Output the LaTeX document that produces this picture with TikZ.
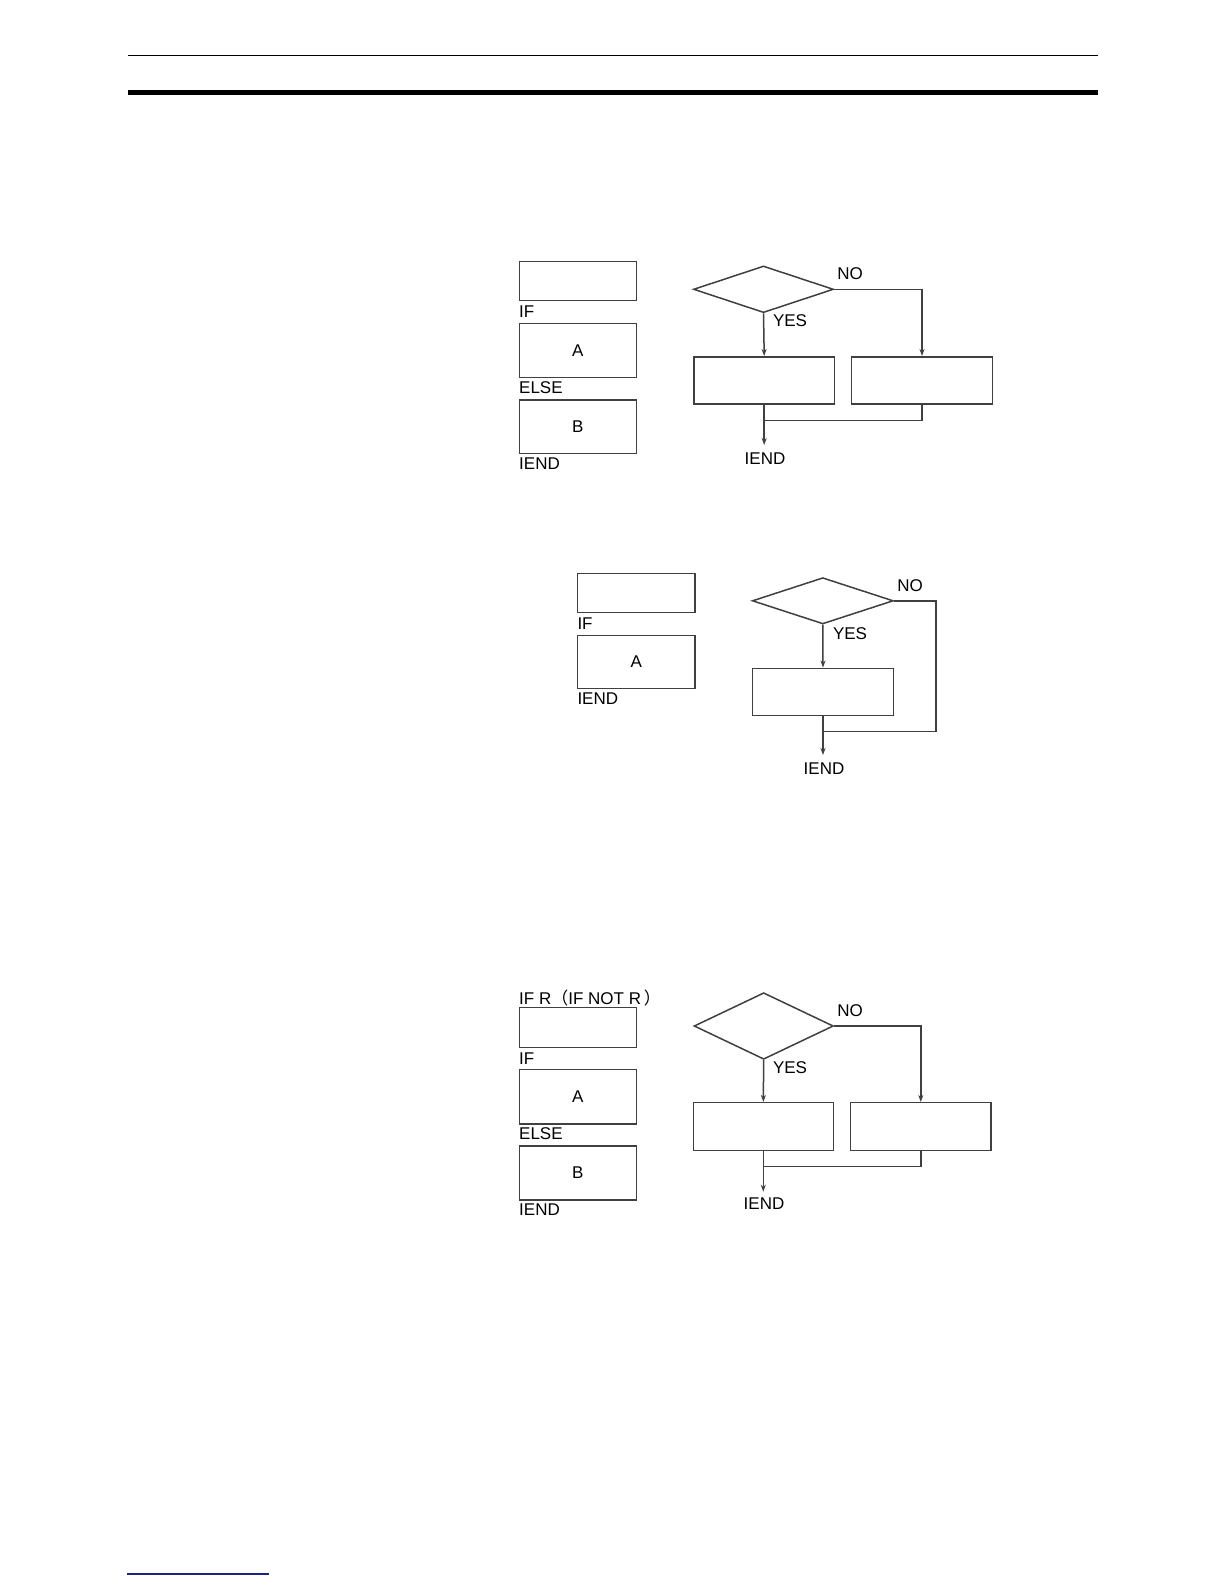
\documentclass[tikz,border=0pt]{standalone}
\usepackage{fontspec}
\setmainfont{Liberation Sans}
\newfontfamily\cjk{Noto Sans CJK SC}
\usetikzlibrary{shapes.geometric,arrows.meta}
\definecolor{ln}{gray}{0.25}
\definecolor{navy}{RGB}{30,30,140}
\tikzset{
  box/.style={draw=ln,line width=1.5pt,rectangle,inner sep=0pt,font=\fontsize{17}{19}\selectfont},
  dec/.style={draw=ln,line width=1.5pt,diamond,inner sep=0pt,aspect=3},
  lbl/.style={inner sep=0pt,font=\fontsize{17}{19}\selectfont,text=black},
  conn/.style={draw=ln,line width=1.5pt},
  arr/.style={conn,-{Stealth[length=7pt,width=5pt]}}
}
\begin{document}
\begin{tikzpicture}[x=1pt,y=-1pt]
\useasboundingbox[fill=white] (0,0) rectangle (1224,1584);
% header rules
\draw[line width=1.5pt] (128,55.5) coordinate (h1) -- (1098,55.5) coordinate (h2);
\fill (128,90) rectangle (1098,95.5);
\draw[navy,line width=1.5pt] (127,1574) coordinate (f1) -- (269,1574) coordinate (f2);

% ---------- Diagram 1 ----------
\node[box,minimum width=117pt,minimum height=39pt] (a1) at (577.8,281.2) {};
\node[lbl,anchor=west] (a1l) at (519,311.7) {IF};
\node[box,minimum width=117pt,minimum height=54pt] (a2) at (577.8,350.3) {A};
\node[lbl,anchor=west] (a2l) at (519,388) {ELSE};
\node[box,minimum width=117pt,minimum height=53.3pt] (a3) at (577.8,426.7) {B};
\node[lbl,anchor=west] (a3l) at (519,463.3) {IEND};

\node[dec,minimum width=140pt,minimum height=46.7pt] (d1) at (763.5,289.3) {};
\node[box,minimum width=140.3pt,minimum height=47.3pt] (l1) at (764.2,380.4) {};
\node[box,minimum width=140.6pt,minimum height=47.3pt] (r1) at (922,380.4) {};
\node[lbl] (no1) at (850,274) {NO};
\node[lbl] (yes1) at (790,321) {YES};
\node[lbl] (e1) at (765,458.3) {IEND};
\coordinate (j1) at (764.2,420.7);
\coordinate (t1) at (764.2,445);
\draw[arr] (d1.east) -| (r1.north);
\draw[arr] (d1.south) -- (l1.north);
\draw[conn] (r1.south) |- (j1);
\draw[arr] (l1.south) -- (t1);

% ---------- Diagram 2 ----------
\node[box,minimum width=117.7pt,minimum height=39pt] (b1) at (636.2,592.8) {};
\node[lbl,anchor=west] (b1l) at (577.3,623.3) {IF};
\node[box,minimum width=117.7pt,minimum height=53pt] (b2) at (636.2,661.8) {A};
\node[lbl,anchor=west] (b2l) at (577.3,698.3) {IEND};

\node[dec,minimum width=141pt,minimum height=46.3pt] (d2) at (822.8,600.8) {};
\node[box,minimum width=140.6pt,minimum height=47pt] (l2) at (823,691.8) {};
\node[lbl] (no2) at (910,586) {NO};
\node[lbl] (yes2) at (850,633.3) {YES};
\node[lbl] (e2) at (824,768.3) {IEND};
\coordinate (c2) at (936,731.7);
\coordinate (j2) at (823,731.7);
\coordinate (t2) at (823,755);
\draw[arr] (d2.south) -- (l2.north);
\draw[conn] (d2.east) -| (c2) -- (j2);
\draw[arr] (l2.south) -- (t2);

% ---------- Diagram 3 ----------
\node[lbl,anchor=west] (c0l) at (519,998.3) {IF R{\cjk （}IF NOT R\,{\cjk ）}};
\node[box,minimum width=117pt,minimum height=39.6pt] (c1) at (577.8,1027.5) {};
\node[lbl,anchor=west] (c1l) at (519,1058.3) {IF};
\node[box,minimum width=117pt,minimum height=54.7pt] (c2b) at (577.8,1096.7) {A};
\node[lbl,anchor=west] (c2l) at (519,1134) {ELSE};
\node[box,minimum width=117pt,minimum height=54pt] (c3) at (577.8,1173) {B};
\node[lbl,anchor=west] (c3l) at (519,1209.5) {IEND};

\node[dec,minimum width=139.3pt,minimum height=66.6pt] (d3) at (763.7,1026) {};
\node[box,minimum width=140pt,minimum height=48pt] (l3) at (763.3,1126.7) {};
\node[box,minimum width=140.3pt,minimum height=48pt] (r3) at (920.8,1126.7) {};
\node[lbl] (no3) at (850,1010.7) {NO};
\node[lbl] (yes3) at (790,1067.3) {YES};
\node[lbl] (e3) at (764,1203.5) {IEND};
\coordinate (j3) at (763.3,1166.7);
\coordinate (t3) at (763.3,1191.7);
\draw[arr] (d3.east) -| (r3.north);
\draw[arr] (d3.south) -- (l3.north);
\draw[conn] (r3.south) |- (j3);
\draw[arr] (l3.south) -- (t3);
\end{tikzpicture}
\end{document}
